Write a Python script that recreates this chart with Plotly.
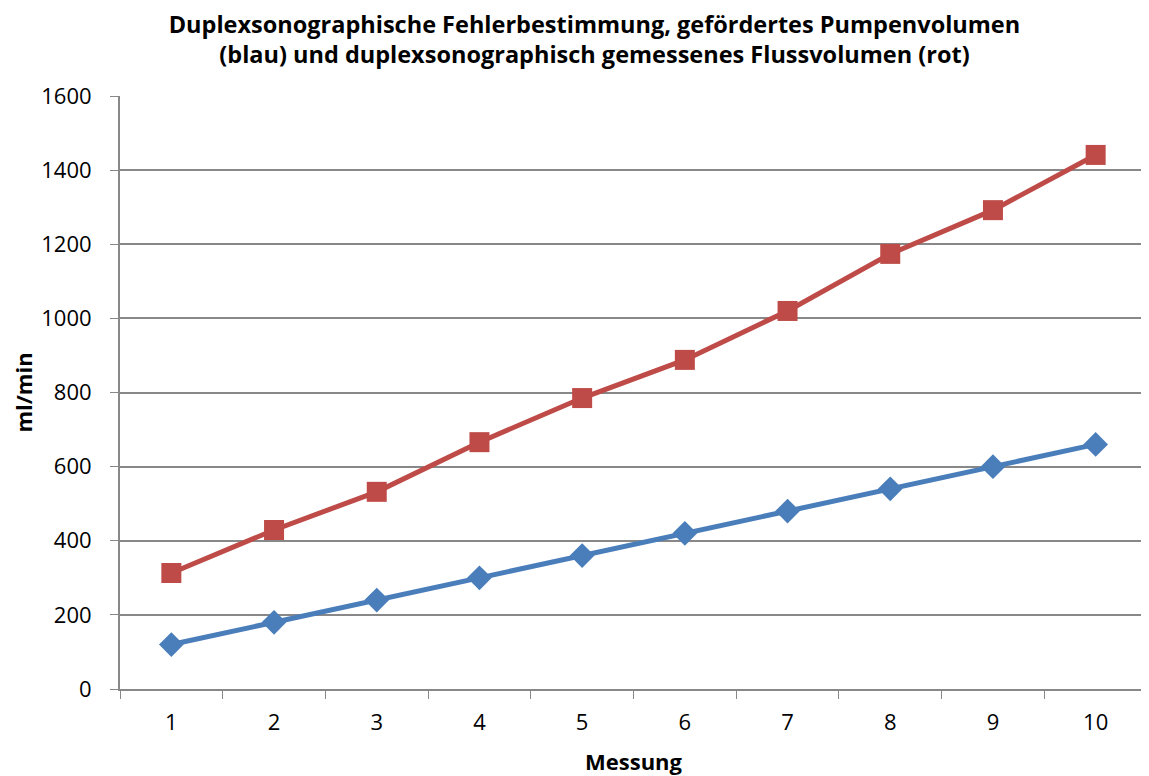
import plotly.graph_objects as go

messung = ["1", "2", "3", "4", "5", "6", "7", "8", "9", "10"]
pumpenvolumen = [120, 180, 240, 300, 360, 420, 480, 540, 600, 660]
flussvolumen = [313, 429, 532, 666, 785, 888, 1020, 1174, 1292, 1441]
y_ticks = [0, 200, 400, 600, 800, 1000, 1200, 1400, 1600]

fig = go.Figure()
fig.add_trace(go.Scatter(
    x=messung, y=pumpenvolumen, mode="lines+markers",
    line=dict(color="#4A7EBB", width=5),
    marker=dict(symbol="diamond", size=19, color="#4A7EBB"),
    name="Pumpenvolumen"))
fig.add_trace(go.Scatter(
    x=messung, y=flussvolumen, mode="lines+markers",
    line=dict(color="#BE4B48", width=5),
    marker=dict(symbol="square", size=20, color="#BE4B48"),
    name="Flussvolumen"))

font_family = "Open Sans, Liberation Sans, sans-serif"
fig.update_layout(
    width=1141, height=768,
    margin=dict(l=112, r=2, t=88, b=87),
    paper_bgcolor="white", plot_bgcolor="white",
    showlegend=False,
    font=dict(family=font_family, size=22, color="black"),
    title=dict(
        text="<b>Duplexsonographische Fehlerbestimmung, gefördertes Pumpenvolumen<br>(blau) und duplexsonographisch gemessenes Flussvolumen (rot)</b>",
        x=0.514, xanchor="center", y=0.968, yanchor="top",
        font=dict(size=23.5, family=font_family)),
    xaxis=dict(
        type="category", tickson="boundaries", range=[-0.5, 9.5],
        ticks="outside", ticklen=8, ticklabelstandoff=13,
        tickcolor="#888888", showgrid=False, showline=True, linecolor="#888888",
        linewidth=2, tickfont=dict(size=22),
        title=dict(text="<b>Messung</b>", font=dict(size=22), standoff=20)),
    yaxis=dict(
        range=[0, 1600], tickvals=y_ticks, ticks="outside", ticklen=8,
        ticklabelstandoff=14,
        tickcolor="#888888", showgrid=True, gridcolor="#888888", gridwidth=2,
        showline=True, linecolor="#888888", linewidth=2, zeroline=False,
        tickfont=dict(size=22),
        title=dict(text="<b>ml/min</b>", font=dict(size=22), standoff=10)),
)
fig.write_html("out.html")
